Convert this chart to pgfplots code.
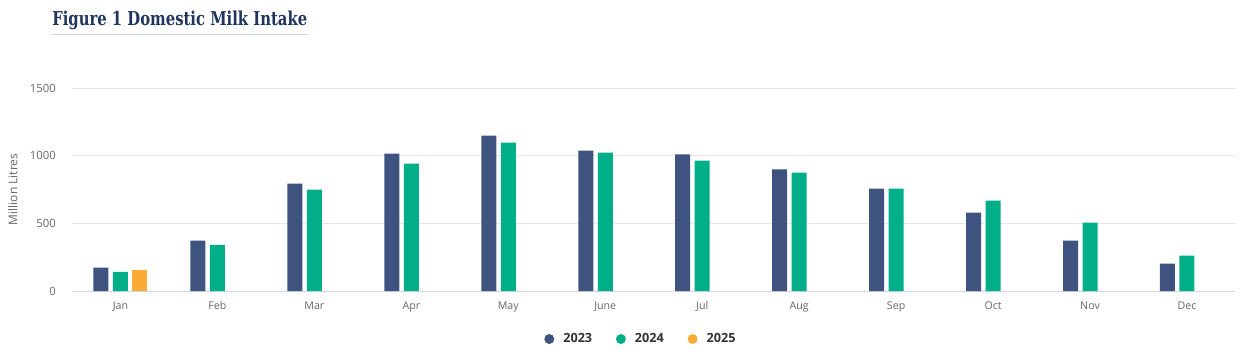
\documentclass[border=0pt]{standalone}
\usepackage{pgfplots}
\pgfplotsset{compat=1.18}
\usepackage{graphicx}
\usepackage{fontspec}
\setmainfont{Open Sans}
\newfontfamily\titlefont{DejaVu Serif}
\definecolor{c23}{HTML}{3F5380}
\definecolor{c24}{HTML}{00AF87}
\definecolor{c25}{HTML}{FBAA35}
\definecolor{titlec}{HTML}{1F355E}
\definecolor{tickc}{HTML}{666666}
\definecolor{legc}{HTML}{333333}
\definecolor{gridc}{HTML}{E6E6E6}
\definecolor{axisc}{HTML}{CCD6EB}
\definecolor{ulc}{HTML}{CCD3DB}
\begin{document}
\begin{tikzpicture}[x=0.75pt,y=0.75pt]
\useasboundingbox (0,0) rectangle (1243,358);
\node[anchor=base west, inner sep=0pt, text=titlec] at (52,332) {\resizebox{191.25pt}{10.9pt}{\titlefont\bfseries Figure 1 Domestic Milk Intake}};
\draw[ulc, line width=0.75pt] (51,323) -- (308,323);
\begin{axis}[
  at={(54pt,50.25pt)}, anchor=south west,
  scale only axis, width=872.6pt, height=152.25pt,
  xmin=-0.5, xmax=11.5, ymin=0, ymax=1500,
  xtick={0,...,11},
  xticklabels={Jan,Feb,Mar,Apr,May,June,Jul,Aug,Sep,Oct,Nov,Dec},
  ytick={0,500,1000,1500},
  ymajorgrids, grid style={gridc, line width=0.75pt},
  axis x line*=bottom, axis y line*=left,
  x axis line style={axisc, line width=0.75pt, -},
  y axis line style={draw=none},
  major tick length=0pt, tick style={draw=none},
  /pgf/number format/assume math mode=true,
  /pgf/number format/1000 sep={},
  yticklabel style={font=\fontsize{8.5}{10}\selectfont, text=tickc, inner sep=0pt, anchor=east, xshift=-12pt},
  xticklabel style={font=\fontsize{8}{10}\selectfont, text=tickc, inner sep=0pt, anchor=base, yshift=-13.5pt},
  ylabel={Million Litres},
  ylabel style={at={(axis description cs:0,0.5)}, anchor=center, yshift=44.25pt, font=\fontsize{9}{11}\selectfont, text=tickc},
  legend columns=3,
  legend style={at={(0.4057,-0.2365)}, anchor=west, draw=none, fill=none, inner sep=0pt, column sep=0pt,
    nodes={inner sep=0pt, text=legc, font=\fontsize{9.5}{11}\selectfont\bfseries},
    /tikz/every even column/.append style={column sep=17.8pt}},
  legend cell align=left,
]
\addplot[ybar, bar width=11.25pt, bar shift=-14.625pt, fill=c23, draw=none, forget plot]
  coordinates {(0,172) (1,372) (2,794) (3,1016) (4,1149) (5,1038) (6,1009) (7,898) (8,757) (9,579) (10,372) (11,202)};
\addplot[ybar, bar width=11.25pt, bar shift=0pt, fill=c24, draw=none, forget plot]
  coordinates {(0,141) (1,340) (2,750) (3,942) (4,1097) (5,1023) (6,964) (7,875) (8,757) (9,668) (10,505) (11,261)};
\addplot[ybar, bar width=11.25pt, bar shift=14.625pt, fill=c25, draw=none, forget plot]
  coordinates {(0,155)};
\addlegendimage{legend image code/.code={\path[draw=none,fill=none] (0pt,-3.75pt) rectangle (14.25pt,3.75pt);\fill[c23,draw=none] (3.75pt,0pt) circle (3.75pt);}}
\addlegendentry{2023}
\addlegendimage{legend image code/.code={\path[draw=none,fill=none] (0pt,-3.75pt) rectangle (14.25pt,3.75pt);\fill[c24,draw=none] (3.75pt,0pt) circle (3.75pt);}}
\addlegendentry{2024}
\addlegendimage{legend image code/.code={\path[draw=none,fill=none] (0pt,-3.75pt) rectangle (14.25pt,3.75pt);\fill[c25,draw=none] (3.75pt,0pt) circle (3.75pt);}}
\addlegendentry{2025}
\end{axis}
\end{tikzpicture}
\end{document}
